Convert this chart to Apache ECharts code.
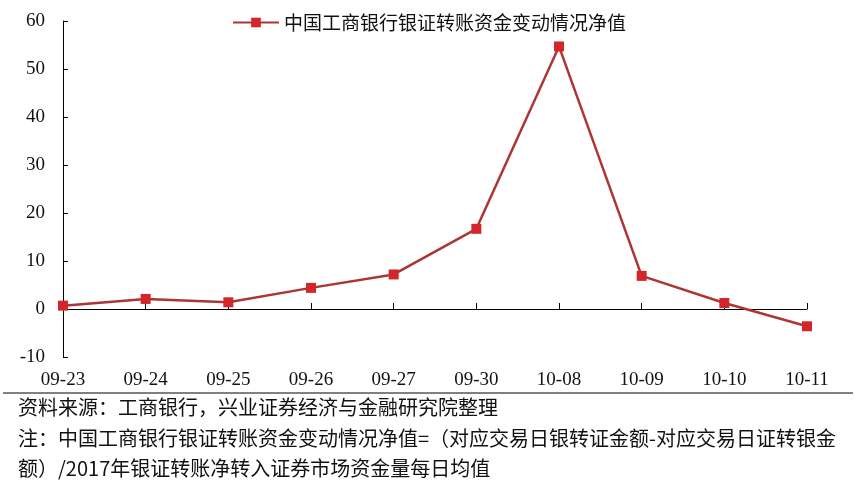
<!DOCTYPE html>
<html>
<head>
<meta charset="utf-8">
<script src="https://cdn.jsdelivr.net/npm/echarts@6/dist/echarts.min.js"></script>
<style>
html,body{margin:0;padding:0;background:#fff;}
#c{width:855px;height:488px;}
</style>
</head>
<body>
<div id="c"></div>
<script>
var categories = ['09-23','09-24','09-25','09-26','09-27','09-30','10-08','10-09','10-10','10-11'];
var values = [0.7, 2.1, 1.4, 4.4, 7.2, 16.7, 54.7, 6.9, 1.25, -3.6];
var seriesName = '中国工商银行银证转账资金变动情况净值';
var sourceText = '资料来源：工商银行，兴业证券经济与金融研究院整理';
var noteLine1 = '注：中国工商银行银证转账资金变动情况净值=（对应交易日银转证金额-对应交易日证转银金';
var noteLine2 = '额）/2017年银证转账净转入证券市场资金量每日均值';

var serif = '"Liberation Serif", "Noto Sans CJK SC", serif';
var cjk = '"Noto Sans CJK SC", "Liberation Serif", sans-serif';

var chart = echarts.init(document.getElementById('c'));
chart.setOption({
  backgroundColor: '#fff',
  animation: false,
  grid: {left: 63, right: 48, top: 21, bottom: 131, containLabel: false},
  legend: {
    data: [seriesName],
    left: 227, top: 8,
    itemWidth: 46, itemHeight: 12,
    itemGap: 6,
    textStyle: {fontFamily: cjk, fontSize: 19, color: '#111'}
  },
  xAxis: [{
    type: 'category',
    data: categories,
    boundaryGap: false,
    axisLine: {onZero: true, lineStyle: {color: '#000', width: 1}},
    axisTick: {show: true, inside: true, length: 6, lineStyle: {color: '#000'}},
    axisLabel: {show: false},
    splitLine: {show: false}
  }, {
    type: 'category',
    data: categories,
    boundaryGap: false,
    position: 'bottom',
    axisLine: {show: false, onZero: false},
    axisTick: {show: false},
    axisLabel: {show: true, margin: 14, fontFamily: serif, fontSize: 19, color: '#111'},
    splitLine: {show: false}
  }],
  yAxis: {
    type: 'value',
    min: -10, max: 60, interval: 10,
    axisLine: {show: true, lineStyle: {color: '#000', width: 1}},
    axisTick: {show: true, inside: true, length: 5, lineStyle: {color: '#000'}},
    axisLabel: {margin: 18, fontFamily: serif, fontSize: 19, color: '#111'},
    splitLine: {show: false}
  },
  series: [{
    name: seriesName,
    type: 'line',
    xAxisIndex: 0,
    data: values,
    symbol: 'rect',
    symbolSize: 10,
    lineStyle: {color: '#ad3535', width: 2.5},
    itemStyle: {color: '#d2262b'}
  }],
  graphic: [
    {type: 'line', shape: {x1: 3, y1: 393, x2: 853, y2: 393}, style: {stroke: '#000', lineWidth: 1}},
    {type: 'text', left: 18, top: 397, style: {text: sourceText, font: '20px ' + cjk, fill: '#111'}},
    {type: 'text', left: 18, top: 428, style: {text: noteLine1, font: '20px ' + cjk, fill: '#111'}},
    {type: 'text', left: 18, top: 458, style: {text: noteLine2, font: '20px ' + cjk, fill: '#111'}}
  ]
});
</script>
</body>
</html>
